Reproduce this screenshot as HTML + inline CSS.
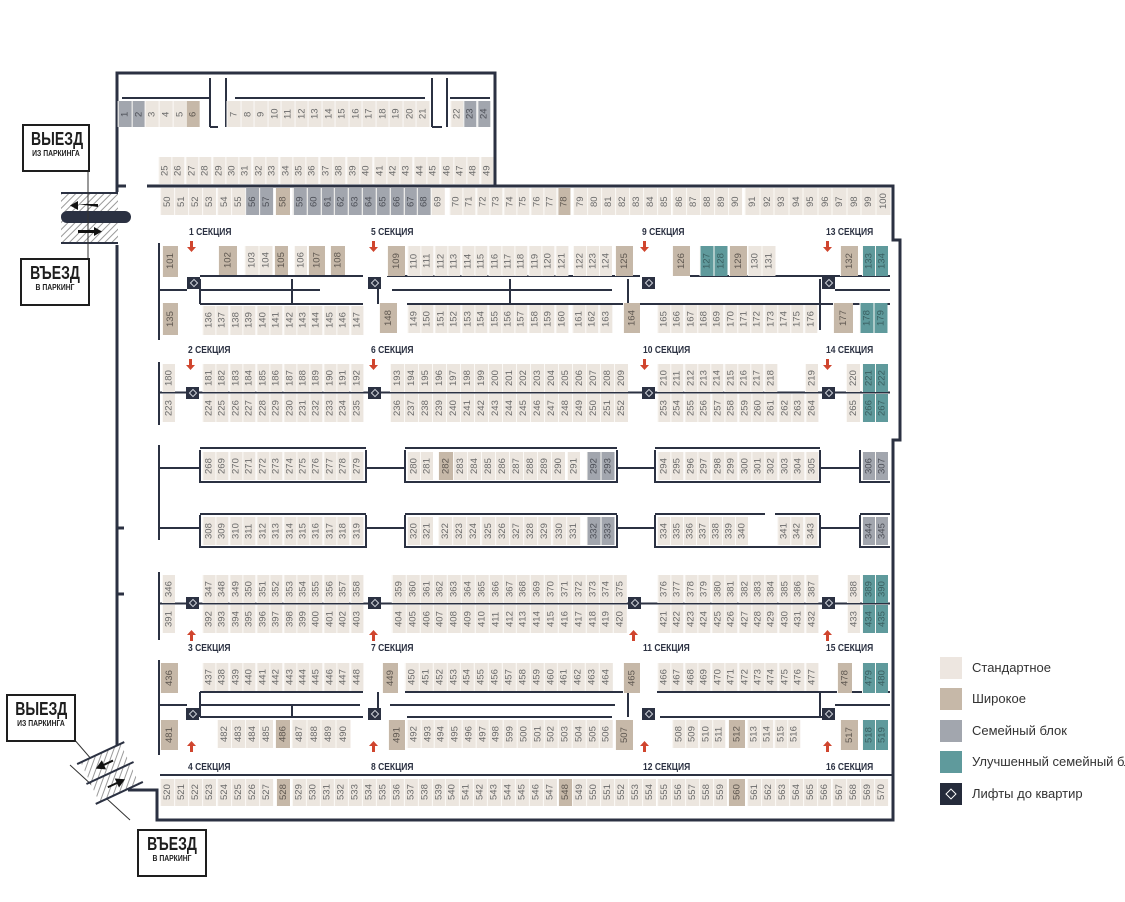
<!DOCTYPE html>
<html><head><meta charset="utf-8"><style>
html,body{margin:0;padding:0}
body{width:1125px;height:902px;position:relative;background:#fff;overflow:hidden;font-family:"Liberation Sans",sans-serif}
.r{position:absolute;display:flex}
.r i{flex:1 1 0;min-width:0;font-style:normal;background:#ece6df;border-right:1px solid #fbf9f6;box-sizing:border-box;color:#6a6a6a;font-size:9.5px;writing-mode:vertical-rl;transform:rotate(180deg);display:flex;align-items:center;justify-content:center;line-height:1;overflow:hidden}
.r i.w{background:#c6b8a8;color:#5e5750}
.r i.f{background:#a2a6ae;color:#4d5058}
.r i.t{background:#5f9a9c;color:#3a5f61}
.s{position:absolute;font-family:"Liberation Sans Narrow","Liberation Sans",sans-serif;font-weight:bold;font-size:10px;color:#2b3142;white-space:nowrap;transform:scaleX(.85);transform-origin:left}
.lf{position:absolute;width:13px;height:12px;background:#2b3142}
.lf:after{content:"";position:absolute;left:4px;top:3px;width:4px;height:4px;border:1px solid #cfd3da;transform:rotate(45deg)}
.sign{position:absolute;border:2px solid #1e1e1e;background:#fff;text-align:center;font-family:"Liberation Sans Narrow","Liberation Sans",sans-serif;font-weight:bold;color:#1e1e1e;overflow:hidden}
.sign b{display:block;font-size:18px;line-height:19px;margin-top:4px;transform:scaleX(.78)}
.sign small{display:block;font-size:8px;line-height:10px;font-weight:bold;transform:scaleX(.85)}
.lg{position:absolute;left:940px;width:22px;height:22px}
.lt{position:absolute;left:972px;font-size:13px;color:#333;white-space:nowrap}
</style></head><body>

<svg width="1125" height="902" style="position:absolute;left:0;top:0" fill="none" stroke="#2b3142" stroke-width="3">
<path d="M117,192 V73 H495 V186"/>
<path d="M147,186 H893 V240 H900 V440 H893 V820 H157 V790 H128"/>
<path d="M117,245 V748"/>
<path d="M117,186 H126 M117,528 H124 M117,594 H124" />
<g stroke-width="2">
<path d="M122,98 H210 M235,98 H425 M450,98 H490"/>
<path d="M210,78 V127 M226,78 V127 M432,78 V127 M447,78 V127 M210,127 H218 M432,127 H442"/>
<path d="M159,243 V340 M159,362 V425 M159,445 V540 M159,572 V640 M159,660 V755"/>
<path d="M200,276 H363 M387,276 H640 M690,276 H890 M160,290 H187 M200,290 H320 M392,290 H612 M835,290 H890"/>
<path d="M200,304 H363 M407,304 H890 M200,279 V304 M292,279 V304 M378,279 V304 M510,279 V304 M628,279 V330 M820,279 V330"/>
<path d="M159,392.5 H890"/>
<path d="M200,450 V482 H366 V450 M405,450 V482 H617 V450 M655,450 V482 H820 V450 M860,450 V482 H890"/>
<path d="M200,515 V547 H366 V515 M405,515 V547 H617 V515 M655,515 V547 H820 V515 M860,515 V547 H890"/>
<path d="M159,468 H200 M366,468 H405 M617,468 H655 M820,468 H860"/>
<path d="M159,528 H200 M366,528 H405 M617,528 H655 M820,528 H860"/>
<path d="M200,448 H366 M405,448 H617 M655,448 H820 M200,514 H366 M405,514 H617 M655,514 H765 M775,514 H820 M860,514 H890"/>
<path d="M159,603.5 H890"/>
<path d="M200,692 H363 M405,692 H640 M657,692 H890 M160,705 H187 M200,705 H360 M390,705 H615 M835,705 H890 M200,717 H363 M407,717 H612 M660,717 H835"/>
<path d="M200,692 V717 M292,705 V717 M378,692 V717 M628,692 V717 M820,692 V717"/>
<path d="M160,775 H893"/>
</g>
</svg>

<div class="r" style="left:118px;top:101px;width:82px;height:26px"><i class="f">1</i><i class="f">2</i><i>3</i><i>4</i><i>5</i><i class="w">6</i></div>
<div class="r" style="left:227px;top:101px;width:203px;height:26px"><i>7</i><i>8</i><i>9</i><i>10</i><i>11</i><i>12</i><i>13</i><i>14</i><i>15</i><i>16</i><i>17</i><i>18</i><i>19</i><i>20</i><i>21</i></div>
<div class="r" style="left:450px;top:101px;width:40px;height:26px"><i>22</i><i class="f">23</i><i class="f">24</i></div>
<div class="r" style="left:158px;top:157px;width:335px;height:27px"><i>25</i><i>26</i><i>27</i><i>28</i><i>29</i><i>30</i><i>31</i><i>32</i><i>33</i><i>34</i><i>35</i><i>36</i><i>37</i><i>38</i><i>39</i><i>40</i><i>41</i><i>42</i><i>43</i><i>44</i><i>45</i><i>46</i><i>47</i><i>48</i><i>49</i></div>
<div class="r" style="left:160px;top:188px;width:113px;height:27px"><i>50</i><i>51</i><i>52</i><i>53</i><i>54</i><i>55</i><i class="f">56</i><i class="f">57</i></div>
<div class="r" style="left:275px;top:188px;width:15px;height:27px"><i class="w">58</i></div>
<div class="r" style="left:293px;top:188px;width:152px;height:27px"><i class="f">59</i><i class="f">60</i><i class="f">61</i><i class="f">62</i><i class="f">63</i><i class="f">64</i><i class="f">65</i><i class="f">66</i><i class="f">67</i><i class="f">68</i><i>69</i></div>
<div class="r" style="left:449px;top:188px;width:121px;height:27px"><i>70</i><i>71</i><i>72</i><i>73</i><i>74</i><i>75</i><i>76</i><i>77</i><i class="w">78</i></div>
<div class="r" style="left:573px;top:188px;width:169px;height:27px"><i>79</i><i>80</i><i>81</i><i>82</i><i>83</i><i>84</i><i>85</i><i>86</i><i>87</i><i>88</i><i>89</i><i>90</i></div>
<div class="r" style="left:745px;top:188px;width:145px;height:27px"><i>91</i><i>92</i><i>93</i><i>94</i><i>95</i><i>96</i><i>97</i><i>98</i><i>99</i><i>100</i></div>

<div class="r" style="left:162px;top:246px;width:16px;height:31px"><i class="w">101</i></div>
<div class="r" style="left:218px;top:246px;width:19px;height:29px"><i class="w">102</i></div>
<div class="r" style="left:245px;top:246px;width:27px;height:29px"><i>103</i><i>104</i></div>
<div class="r" style="left:274px;top:246px;width:14px;height:29px"><i class="w">105</i></div>
<div class="r" style="left:294px;top:246px;width:13px;height:29px"><i>106</i></div>
<div class="r" style="left:308px;top:246px;width:17px;height:29px"><i class="w">107</i></div>
<div class="r" style="left:330px;top:246px;width:15px;height:29px"><i class="w">108</i></div>
<div class="r" style="left:387px;top:246px;width:18px;height:30px"><i class="w">109</i></div>
<div class="r" style="left:407px;top:246px;width:161px;height:30px"><i>110</i><i>111</i><i>112</i><i>113</i><i>114</i><i>115</i><i>116</i><i>117</i><i>118</i><i>119</i><i>120</i><i>121</i></div>
<div class="r" style="left:573px;top:246px;width:39px;height:30px"><i>122</i><i>123</i><i>124</i></div>
<div class="r" style="left:615px;top:246px;width:18px;height:30px"><i class="w">125</i></div>
<div class="r" style="left:672px;top:246px;width:18px;height:30px"><i class="w">126</i></div>
<div class="r" style="left:700px;top:246px;width:27px;height:30px"><i class="t">127</i><i class="t">128</i></div>
<div class="r" style="left:729px;top:246px;width:18px;height:30px"><i class="w">129</i></div>
<div class="r" style="left:748px;top:246px;width:27px;height:30px"><i>130</i><i>131</i></div>
<div class="r" style="left:840px;top:246px;width:18px;height:30px"><i class="w">132</i></div>
<div class="r" style="left:862px;top:246px;width:26px;height:30px"><i class="t">133</i><i class="t">134</i></div>

<div class="r" style="left:162px;top:303px;width:16px;height:32px"><i class="w">135</i></div>
<div class="r" style="left:202px;top:306px;width:161px;height:29px"><i>136</i><i>137</i><i>138</i><i>139</i><i>140</i><i>141</i><i>142</i><i>143</i><i>144</i><i>145</i><i>146</i><i>147</i></div>
<div class="r" style="left:379px;top:303px;width:18px;height:30px"><i class="w">148</i></div>
<div class="r" style="left:407px;top:305px;width:161px;height:28px"><i>149</i><i>150</i><i>151</i><i>152</i><i>153</i><i>154</i><i>155</i><i>156</i><i>157</i><i>158</i><i>159</i><i>160</i></div>
<div class="r" style="left:572px;top:305px;width:40px;height:28px"><i>161</i><i>162</i><i>163</i></div>
<div class="r" style="left:623px;top:303px;width:17px;height:30px"><i class="w">164</i></div>
<div class="r" style="left:657px;top:305px;width:160px;height:28px"><i>165</i><i>166</i><i>167</i><i>168</i><i>169</i><i>170</i><i>171</i><i>172</i><i>173</i><i>174</i><i>175</i><i>176</i></div>
<div class="r" style="left:833px;top:303px;width:20px;height:30px"><i class="w">177</i></div>
<div class="r" style="left:860px;top:303px;width:27px;height:30px"><i class="t">178</i><i class="t">179</i></div>

<div class="r" style="left:162px;top:364px;width:13px;height:28px"><i>180</i></div>
<div class="r" style="left:202px;top:364px;width:161px;height:28px"><i>181</i><i>182</i><i>183</i><i>184</i><i>185</i><i>186</i><i>187</i><i>188</i><i>189</i><i>190</i><i>191</i><i>192</i></div>
<div class="r" style="left:390px;top:364px;width:238px;height:28px"><i>193</i><i>194</i><i>195</i><i>196</i><i>197</i><i>198</i><i>199</i><i>200</i><i>201</i><i>202</i><i>203</i><i>204</i><i>205</i><i>206</i><i>207</i><i>208</i><i>209</i></div>
<div class="r" style="left:657px;top:364px;width:120px;height:28px"><i>210</i><i>211</i><i>212</i><i>213</i><i>214</i><i>215</i><i>216</i><i>217</i><i>218</i></div>
<div class="r" style="left:805px;top:364px;width:13px;height:28px"><i>219</i></div>
<div class="r" style="left:846px;top:364px;width:14px;height:28px"><i>220</i></div>
<div class="r" style="left:862px;top:364px;width:26px;height:28px"><i class="t">221</i><i class="t">222</i></div>

<div class="r" style="left:162px;top:394px;width:13px;height:28px"><i>223</i></div>
<div class="r" style="left:202px;top:394px;width:161px;height:28px"><i>224</i><i>225</i><i>226</i><i>227</i><i>228</i><i>229</i><i>230</i><i>231</i><i>232</i><i>233</i><i>234</i><i>235</i></div>
<div class="r" style="left:390px;top:394px;width:238px;height:28px"><i>236</i><i>237</i><i>238</i><i>239</i><i>240</i><i>241</i><i>242</i><i>243</i><i>244</i><i>245</i><i>246</i><i>247</i><i>248</i><i>249</i><i>250</i><i>251</i><i>252</i></div>
<div class="r" style="left:657px;top:394px;width:161px;height:28px"><i>253</i><i>254</i><i>255</i><i>256</i><i>257</i><i>258</i><i>259</i><i>260</i><i>261</i><i>262</i><i>263</i><i>264</i></div>
<div class="r" style="left:846px;top:394px;width:14px;height:28px"><i>265</i></div>
<div class="r" style="left:862px;top:394px;width:26px;height:28px"><i class="t">266</i><i class="t">267</i></div>

<div class="r" style="left:202px;top:452px;width:161px;height:28px"><i>268</i><i>269</i><i>270</i><i>271</i><i>272</i><i>273</i><i>274</i><i>275</i><i>276</i><i>277</i><i>278</i><i>279</i></div>
<div class="r" style="left:407px;top:452px;width:26px;height:28px"><i>280</i><i>281</i></div>
<div class="r" style="left:438px;top:452px;width:15px;height:28px"><i class="w">282</i></div>
<div class="r" style="left:453px;top:452px;width:112px;height:28px"><i>283</i><i>284</i><i>285</i><i>286</i><i>287</i><i>288</i><i>289</i><i>290</i></div>
<div class="r" style="left:567px;top:452px;width:13px;height:28px"><i>291</i></div>
<div class="r" style="left:587px;top:452px;width:27px;height:28px"><i class="f">292</i><i class="f">293</i></div>
<div class="r" style="left:657px;top:452px;width:161px;height:28px"><i>294</i><i>295</i><i>296</i><i>297</i><i>298</i><i>299</i><i>300</i><i>301</i><i>302</i><i>303</i><i>304</i><i>305</i></div>
<div class="r" style="left:862px;top:452px;width:26px;height:28px"><i class="f">306</i><i class="f">307</i></div>

<div class="r" style="left:202px;top:517px;width:161px;height:28px"><i>308</i><i>309</i><i>310</i><i>311</i><i>312</i><i>313</i><i>314</i><i>315</i><i>316</i><i>317</i><i>318</i><i>319</i></div>
<div class="r" style="left:407px;top:517px;width:26px;height:28px"><i>320</i><i>321</i></div>
<div class="r" style="left:438px;top:517px;width:142px;height:28px"><i>322</i><i>323</i><i>324</i><i>325</i><i>326</i><i>327</i><i>328</i><i>329</i><i>330</i><i>331</i></div>
<div class="r" style="left:587px;top:517px;width:27px;height:28px"><i class="f">332</i><i class="f">333</i></div>
<div class="r" style="left:657px;top:517px;width:91px;height:28px"><i>334</i><i>335</i><i>336</i><i>337</i><i>338</i><i>339</i><i>340</i></div>
<div class="r" style="left:777px;top:517px;width:40px;height:28px"><i>341</i><i>342</i><i>343</i></div>
<div class="r" style="left:862px;top:517px;width:26px;height:28px"><i class="f">344</i><i class="f">345</i></div>

<div class="r" style="left:162px;top:575px;width:13px;height:28px"><i>346</i></div>
<div class="r" style="left:202px;top:575px;width:161px;height:28px"><i>347</i><i>348</i><i>349</i><i>350</i><i>351</i><i>352</i><i>353</i><i>354</i><i>355</i><i>356</i><i>357</i><i>358</i></div>
<div class="r" style="left:392px;top:575px;width:235px;height:28px"><i>359</i><i>360</i><i>361</i><i>362</i><i>363</i><i>364</i><i>365</i><i>366</i><i>367</i><i>368</i><i>369</i><i>370</i><i>371</i><i>372</i><i>373</i><i>374</i><i>375</i></div>
<div class="r" style="left:657px;top:575px;width:161px;height:28px"><i>376</i><i>377</i><i>378</i><i>379</i><i>380</i><i>381</i><i>382</i><i>383</i><i>384</i><i>385</i><i>386</i><i>387</i></div>
<div class="r" style="left:847px;top:575px;width:13px;height:28px"><i>388</i></div>
<div class="r" style="left:862px;top:575px;width:26px;height:28px"><i class="t">389</i><i class="t">390</i></div>

<div class="r" style="left:162px;top:605px;width:13px;height:28px"><i>391</i></div>
<div class="r" style="left:202px;top:605px;width:161px;height:28px"><i>392</i><i>393</i><i>394</i><i>395</i><i>396</i><i>397</i><i>398</i><i>399</i><i>400</i><i>401</i><i>402</i><i>403</i></div>
<div class="r" style="left:392px;top:605px;width:235px;height:28px"><i>404</i><i>405</i><i>406</i><i>407</i><i>408</i><i>409</i><i>410</i><i>411</i><i>412</i><i>413</i><i>414</i><i>415</i><i>416</i><i>417</i><i>418</i><i>419</i><i>420</i></div>
<div class="r" style="left:657px;top:605px;width:161px;height:28px"><i>421</i><i>422</i><i>423</i><i>424</i><i>425</i><i>426</i><i>427</i><i>428</i><i>429</i><i>430</i><i>431</i><i>432</i></div>
<div class="r" style="left:847px;top:605px;width:13px;height:28px"><i>433</i></div>
<div class="r" style="left:862px;top:605px;width:26px;height:28px"><i class="t">434</i><i class="t">435</i></div>

<div class="r" style="left:160px;top:663px;width:18px;height:30px"><i class="w">436</i></div>
<div class="r" style="left:202px;top:663px;width:161px;height:28px"><i>437</i><i>438</i><i>439</i><i>440</i><i>441</i><i>442</i><i>443</i><i>444</i><i>445</i><i>446</i><i>447</i><i>448</i></div>
<div class="r" style="left:382px;top:663px;width:16px;height:30px"><i class="w">449</i></div>
<div class="r" style="left:405px;top:663px;width:208px;height:28px"><i>450</i><i>451</i><i>452</i><i>453</i><i>454</i><i>455</i><i>456</i><i>457</i><i>458</i><i>459</i><i>460</i><i>461</i><i>462</i><i>463</i><i>464</i></div>
<div class="r" style="left:623px;top:663px;width:17px;height:30px"><i class="w">465</i></div>
<div class="r" style="left:657px;top:663px;width:161px;height:28px"><i>466</i><i>467</i><i>468</i><i>469</i><i>470</i><i>471</i><i>472</i><i>473</i><i>474</i><i>475</i><i>476</i><i>477</i></div>
<div class="r" style="left:837px;top:663px;width:15px;height:30px"><i class="w">478</i></div>
<div class="r" style="left:862px;top:663px;width:26px;height:30px"><i class="t">479</i><i class="t">480</i></div>

<div class="r" style="left:160px;top:720px;width:18px;height:30px"><i class="w">481</i></div>
<div class="r" style="left:217px;top:720px;width:56px;height:28px"><i>482</i><i>483</i><i>484</i><i>485</i></div>
<div class="r" style="left:275px;top:720px;width:15px;height:28px"><i class="w">486</i></div>
<div class="r" style="left:292px;top:720px;width:58px;height:28px"><i>487</i><i>488</i><i>489</i><i>490</i></div>
<div class="r" style="left:388px;top:720px;width:17px;height:30px"><i class="w">491</i></div>
<div class="r" style="left:407px;top:720px;width:206px;height:28px"><i>492</i><i>493</i><i>494</i><i>495</i><i>496</i><i>497</i><i>498</i><i>599</i><i>500</i><i>501</i><i>502</i><i>503</i><i>504</i><i>505</i><i>506</i></div>
<div class="r" style="left:615px;top:720px;width:18px;height:30px"><i class="w">507</i></div>
<div class="r" style="left:672px;top:720px;width:53px;height:28px"><i>508</i><i>509</i><i>510</i><i>511</i></div>
<div class="r" style="left:728px;top:720px;width:17px;height:28px"><i class="w">512</i></div>
<div class="r" style="left:747px;top:720px;width:53px;height:28px"><i>513</i><i>514</i><i>515</i><i>516</i></div>
<div class="r" style="left:840px;top:720px;width:18px;height:30px"><i class="w">517</i></div>
<div class="r" style="left:862px;top:720px;width:26px;height:30px"><i class="t">518</i><i class="t">519</i></div>

<div class="r" style="left:160px;top:779px;width:113px;height:27px"><i>520</i><i>521</i><i>522</i><i>523</i><i>524</i><i>525</i><i>526</i><i>527</i></div>
<div class="r" style="left:276px;top:779px;width:14px;height:27px"><i class="w">528</i></div>
<div class="r" style="left:292px;top:779px;width:265px;height:27px"><i>529</i><i>530</i><i>531</i><i>532</i><i>533</i><i>534</i><i>535</i><i>536</i><i>537</i><i>538</i><i>539</i><i>540</i><i>541</i><i>542</i><i>543</i><i>544</i><i>545</i><i>546</i><i>547</i></div>
<div class="r" style="left:558px;top:779px;width:14px;height:27px"><i class="w">548</i></div>
<div class="r" style="left:572px;top:779px;width:155px;height:27px"><i>549</i><i>550</i><i>551</i><i>552</i><i>553</i><i>554</i><i>555</i><i>556</i><i>557</i><i>558</i><i>559</i></div>
<div class="r" style="left:728px;top:779px;width:17px;height:27px"><i class="w">560</i></div>
<div class="r" style="left:747px;top:779px;width:141px;height:27px"><i>561</i><i>562</i><i>563</i><i>564</i><i>565</i><i>566</i><i>567</i><i>568</i><i>569</i><i>570</i></div>

<div class="lf" style="left:187px;top:277px"></div><div class="lf" style="left:368px;top:277px"></div><div class="lf" style="left:642px;top:277px"></div><div class="lf" style="left:822px;top:277px"></div>
<div class="lf" style="left:186px;top:387px"></div><div class="lf" style="left:368px;top:387px"></div><div class="lf" style="left:642px;top:387px"></div><div class="lf" style="left:822px;top:387px"></div>
<div class="lf" style="left:186px;top:597px"></div><div class="lf" style="left:368px;top:597px"></div><div class="lf" style="left:628px;top:597px"></div><div class="lf" style="left:822px;top:597px"></div>
<div class="lf" style="left:186px;top:708px"></div><div class="lf" style="left:368px;top:708px"></div><div class="lf" style="left:642px;top:708px"></div><div class="lf" style="left:822px;top:708px"></div>

<div class="s" style="left:189px;top:227px">1 СЕКЦИЯ</div><div class="s" style="left:371px;top:227px">5 СЕКЦИЯ</div><div class="s" style="left:642px;top:227px">9 СЕКЦИЯ</div><div class="s" style="left:826px;top:227px">13 СЕКЦИЯ</div>
<div class="s" style="left:188px;top:345px">2 СЕКЦИЯ</div><div class="s" style="left:371px;top:345px">6 СЕКЦИЯ</div><div class="s" style="left:643px;top:345px">10 СЕКЦИЯ</div><div class="s" style="left:826px;top:345px">14 СЕКЦИЯ</div>
<div class="s" style="left:188px;top:643px">3 СЕКЦИЯ</div><div class="s" style="left:371px;top:643px">7 СЕКЦИЯ</div><div class="s" style="left:643px;top:643px">11 СЕКЦИЯ</div><div class="s" style="left:826px;top:643px">15 СЕКЦИЯ</div>
<div class="s" style="left:188px;top:762px">4 СЕКЦИЯ</div><div class="s" style="left:371px;top:762px">8 СЕКЦИЯ</div><div class="s" style="left:643px;top:762px">12 СЕКЦИЯ</div><div class="s" style="left:826px;top:762px">16 СЕКЦИЯ</div>

<svg width="1125" height="902" style="position:absolute;left:0;top:0" fill="#d0452e">
<g id="d"><path d="M190,241h3v6h3l-4.5,5l-4.5,-5h3z"/></g>
<use href="#d" x="182"/><use href="#d" x="453"/><use href="#d" x="636"/>
<use href="#d" y="118" x="-1"/><use href="#d" x="182" y="118"/><use href="#d" x="453" y="118"/><use href="#d" x="636" y="118"/>
<g id="u"><path d="M190,641h3v-6h3l-4.5,-5l-4.5,5h3z"/></g>
<use href="#u" x="182"/><use href="#u" x="442"/><use href="#u" x="636"/>
<use href="#u" y="111"/><use href="#u" x="182" y="111"/><use href="#u" x="453" y="111"/><use href="#u" x="636" y="111"/>
</svg>

<svg width="200" height="320" style="position:absolute;left:0;top:0">
<defs><pattern id="h" width="5" height="5" patternUnits="userSpaceOnUse" patternTransform="rotate(45)"><rect width="5" height="5" fill="#fff"/><line x1="0" y1="0" x2="0" y2="5" stroke="#9a9a9a" stroke-width="2"/></pattern></defs>
<rect x="61" y="193" width="57" height="50" fill="url(#h)"/>
<path d="M61,193H118M61,243H118" stroke="#2b3142" stroke-width="2"/>
<rect x="61" y="211" width="70" height="12" rx="6" fill="#2b3142"/>
<line x1="88" y1="170" x2="88" y2="260" stroke="#333" stroke-width="1"/>
<path d="M78,204h20v-3v6z" fill="#111"/><path d="M78,201l-8,4.5l8,4.5z" fill="#111"/>
<path d="M78,230h16v-3l8,4.5l-8,4.5v-3h-16z" fill="#111"/>
</svg>
<div class="sign" style="left:22px;top:124px;width:64px;height:44px"><b>ВЫЕЗД</b><small>ИЗ ПАРКИНГА</small></div>
<div class="sign" style="left:20px;top:258px;width:66px;height:44px"><b>ВЪЕЗД</b><small>В ПАРКИНГ</small></div>

<svg width="240" height="902" style="position:absolute;left:0;top:0">
<path d="M73,738L118,790M70,765L130,820" stroke="#333" stroke-width="1" fill="none"/>
<g transform="translate(110,773) rotate(-25)">
<rect x="-22" y="-22" width="44" height="44" fill="url(#h)"/>
<path d="M-26,-22H26M-26,0H26M-26,22H26" stroke="#2b3142" stroke-width="2"/>
<path d="M8,-11h-10v-4l-9,5l9,5v-4h10z" fill="#111"/>
<path d="M-8,11h10v-4l9,5l-9,5v-4h-10z" fill="#111"/>
</g>
</svg>
<div class="sign" style="left:6px;top:694px;width:66px;height:44px"><b>ВЫЕЗД</b><small>ИЗ ПАРКИНГА</small></div>
<div class="sign" style="left:137px;top:829px;width:66px;height:44px"><b>ВЪЕЗД</b><small>В ПАРКИНГ</small></div>

<div class="lg" style="top:657px;background:#ede6e0"></div><div class="lt" style="top:660px">Стандартное</div>
<div class="lg" style="top:688px;background:#c6b8a8"></div><div class="lt" style="top:691px">Широкое</div>
<div class="lg" style="top:720px;background:#a2a6ae"></div><div class="lt" style="top:723px">Семейный блок</div>
<div class="lg" style="top:751px;background:#5f9a9c"></div><div class="lt" style="top:754px">Улучшенный семейный блок</div>
<div class="lg" style="top:783px;background:#252b3b"></div><div class="lt" style="top:786px">Лифты до квартир</div>
<div style="position:absolute;left:947px;top:790px;width:6px;height:6px;border:1.5px solid #fff;transform:rotate(45deg)"></div>
</body></html>
